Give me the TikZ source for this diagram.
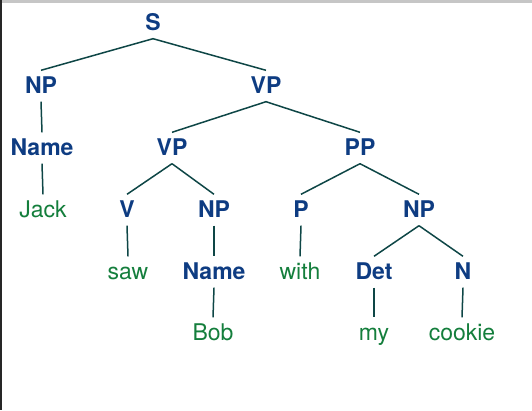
\documentclass[tikz,border=0pt]{standalone}
\usepackage{fontspec}
\setmainfont{TeX Gyre Heros}
\definecolor{catblue}{RGB}{14,60,130}
\definecolor{wordgreen}{RGB}{20,126,60}
\definecolor{edgeteal}{RGB}{14,70,70}
\begin{document}
\begin{tikzpicture}[x=1pt,y=-1pt,
                cat/.style={font=\fontsize{23}{27}\selectfont\bfseries, text=catblue,
                        text height=16pt, text depth=1pt, inner xsep=0pt, inner ysep=7pt},
                word/.style={font=\fontsize{23}{27}\selectfont, text=wordgreen,
                        text height=16pt, text depth=1pt, inner xsep=0pt, inner ysep=7pt},
                edge/.style={draw=edgeteal, line width=1.5pt}]
                \useasboundingbox (0,0) rectangle (532,410);
                \fill[gray!45] (0,0) rectangle (532,3);
                \fill[black!85] (0,0) rectangle (2,410);
                \node[cat] (s) at (153,23) {S};
                \node[cat] (np) at (41,86) {NP};
                \node[cat] (vp) at (266,86) {VP};
                \node[cat] (name) at (42,148) {Name};
                \node[cat] (vpb) at (172,148) {VP};
                \node[cat] (pp) at (360,148) {PP};
                \node[word] (jack) at (43,210) {Jack};
                \node[cat] (v) at (127,210) {V};
                \node[cat] (npb) at (214,210) {NP};
                \node[cat] (p) at (301,210) {P};
                \node[cat] (npc) at (419,210) {NP};
                \node[word] (saw) at (128,272) {saw};
                \node[cat] (nameb) at (214,272) {Name};
                \node[word] (with) at (300,272) {with};
                \node[cat] (det) at (374,272) {Det};
                \node[cat] (n) at (463,272) {N};
                \node[word] (bob) at (213,333) {Bob};
                \node[word] (my) at (374,333) {my};
                \node[word] (cookie) at (462,333) {cookie};
                \draw[edge] (s.south) -- (np.north);
                \draw[edge] (s.south) -- (vp.north);
                \draw[edge] (np.south) -- (name.north);
                \draw[edge] (name.south) -- (jack.north);
                \draw[edge] (vp.south) -- (vpb.north);
                \draw[edge] (vp.south) -- (pp.north);
                \draw[edge] (vpb.south) -- (v.north);
                \draw[edge] (vpb.south) -- (npb.north);
                \draw[edge] (v.south) -- (saw.north);
                \draw[edge] (npb.south) -- (nameb.north);
                \draw[edge] (nameb.south) -- (bob.north);
                \draw[edge] (pp.south) -- (p.north);
                \draw[edge] (pp.south) -- (npc.north);
                \draw[edge] (p.south) -- (with.north);
                \draw[edge] (npc.south) -- (det.north);
                \draw[edge] (npc.south) -- (n.north);
                \draw[edge] (det.south) -- (my.north);
                \draw[edge] (n.south) -- (cookie.north);
            \end{tikzpicture}
\end{document}
